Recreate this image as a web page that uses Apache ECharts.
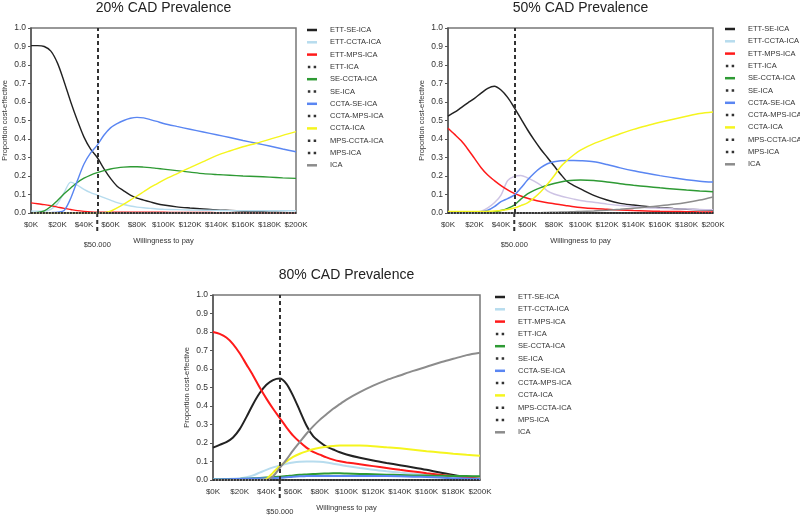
<!DOCTYPE html>
<html lang="en">
<head>
<meta charset="UTF-8">
<title>CAD Prevalence</title>
<script src="https://cdn.jsdelivr.net/npm/echarts@6/dist/echarts.min.js"></script>
<style>
  html, body { margin: 0; padding: 0; background: #fff; }
  #main { width: 800px; height: 516px; }
</style>
</head>
<body>
<div id="main"></div>
<script>
// willingness to pay, $K
var xs = [0, 5, 10, 15, 20, 25, 30, 35, 40, 45, 50, 55, 60, 65, 70, 75, 80, 85, 90, 95, 100,
          110, 120, 130, 140, 150, 160, 170, 180, 190, 200];

var names = ['ETT-SE-ICA', 'ETT-CCTA-ICA', 'ETT-MPS-ICA', 'ETT-ICA', 'SE-CCTA-ICA', 'SE-ICA',
             'CCTA-SE-ICA', 'CCTA-MPS-ICA', 'CCTA-ICA', 'MPS-CCTA-ICA', 'MPS-ICA', 'ICA'];
var dottedNames = ['ETT-ICA', 'SE-ICA', 'CCTA-MPS-ICA', 'MPS-CCTA-ICA', 'MPS-ICA'];
var titles = ['20% CAD Prevalence', '50% CAD Prevalence', '80% CAD Prevalence'];
var wtpLine = 50;

// strategies that stay at zero
var flat = [0,0,0,0,0,0,0,0,0,0,0,0,0,0,0,0,0,0,0,0,0,0,0,0,0,0,0,0,0,0,0];

// 20% prevalence
var ettSe20   = [0.905,0.905,0.9,0.875,0.81,0.71,0.6,0.5,0.41,0.345,0.30,0.24,0.187,0.145,0.12,0.097,0.08,0.07,0.06,0.05,0.043,0.033,0.027,0.022,0.017,0.014,0.011,0.008,0.005,0.003,0.0];
var ettCcta20 = [0.01,0.01,0.01,0.02,0.05,0.11,0.167,0.15,0.128,0.11,0.097,0.083,0.07,0.056,0.046,0.038,0.032,0.028,0.025,0.022,0.02,0.018,0.016,0.015,0.014,0.013,0.013,0.012,0.012,0.012,0.012];
var ettMps20  = [0.055,0.05,0.045,0.039,0.032,0.025,0.019,0.013,0.009,0.006,0.005,0.005,0.004,0.004,0.004,0.004,0.004,0.004,0.004,0.004,0.004,0.003,0.003,0.003,0.002,0.002,0.002,0.001,0.001,0.001,0.0];
var seCcta20  = [0,0.003,0.012,0.035,0.068,0.104,0.135,0.165,0.188,0.205,0.218,0.229,0.238,0.244,0.248,0.25,0.25,0.248,0.245,0.241,0.237,0.229,0.221,0.213,0.208,0.204,0.2,0.197,0.194,0.19,0.187];
var cctaSe20  = [0,0,0,0.002,0.005,0.014,0.08,0.175,0.265,0.325,0.367,0.42,0.46,0.483,0.5,0.512,0.517,0.514,0.505,0.495,0.484,0.468,0.453,0.438,0.423,0.408,0.392,0.377,0.362,0.346,0.331];
var ccta20    = [0,0,0,0,0,0,0,0,0,0,0,0.001,0.01,0.028,0.048,0.07,0.092,0.115,0.138,0.158,0.178,0.212,0.245,0.278,0.31,0.335,0.358,0.377,0.398,0.42,0.44];
var ica20     = [0,0,0,0,0,0,0,0,0,0,0,0,0,0,0,0,0,0,0,0,0,0,0,0,0,0,0,0,0,0,0];

// 50% prevalence
var ettSe50   = [0.524,0.545,0.57,0.595,0.62,0.648,0.674,0.685,0.665,0.625,0.57,0.51,0.45,0.395,0.345,0.3,0.255,0.21,0.17,0.148,0.13,0.095,0.07,0.052,0.043,0.035,0.029,0.024,0.02,0.017,0.015];
var ettCcta50 = [0,0,0,0,0.003,0.01,0.028,0.055,0.097,0.175,0.198,0.203,0.19,0.172,0.15,0.12,0.103,0.092,0.083,0.075,0.068,0.058,0.048,0.04,0.034,0.029,0.026,0.023,0.021,0.019,0.017];
var ettMps50  = [0.458,0.425,0.39,0.345,0.295,0.245,0.205,0.175,0.148,0.125,0.106,0.092,0.08,0.07,0.062,0.055,0.05,0.044,0.039,0.034,0.03,0.024,0.02,0.016,0.013,0.011,0.009,0.008,0.007,0.006,0.005];
var seCcta50  = [0,0,0,0,0,0,0.002,0.006,0.013,0.025,0.043,0.075,0.103,0.122,0.137,0.15,0.16,0.168,0.174,0.177,0.178,0.176,0.168,0.158,0.15,0.143,0.136,0.13,0.124,0.119,0.115];
var cctaSe50  = [0,0,0,0.001,0.003,0.005,0.015,0.035,0.061,0.078,0.097,0.135,0.178,0.215,0.245,0.266,0.277,0.283,0.284,0.284,0.283,0.277,0.262,0.244,0.228,0.215,0.202,0.19,0.18,0.172,0.167];
var ccta50    = [0.008,0.008,0.008,0.008,0.008,0.008,0.009,0.011,0.014,0.019,0.027,0.04,0.055,0.082,0.115,0.155,0.2,0.25,0.285,0.315,0.34,0.375,0.402,0.428,0.452,0.472,0.49,0.507,0.523,0.538,0.546];
var ica50     = [0,0,0,0,0,0,0,0,0,0,0,0,0,0.001,0.002,0.003,0.004,0.005,0.006,0.007,0.008,0.011,0.015,0.02,0.026,0.032,0.039,0.047,0.057,0.07,0.087];

// 80% prevalence
var ettSe80   = [0.175,0.19,0.205,0.23,0.275,0.34,0.41,0.47,0.515,0.54,0.548,0.52,0.455,0.375,0.295,0.237,0.205,0.18,0.165,0.15,0.138,0.12,0.105,0.092,0.08,0.068,0.055,0.04,0.027,0.015,0.005];
var ettCcta80 = [0.005,0.005,0.005,0.007,0.01,0.015,0.025,0.04,0.055,0.068,0.078,0.088,0.095,0.099,0.1,0.1,0.098,0.094,0.088,0.082,0.076,0.065,0.055,0.047,0.04,0.034,0.029,0.025,0.021,0.019,0.018];
var ettMps80  = [0.8,0.79,0.77,0.735,0.685,0.625,0.565,0.5,0.44,0.385,0.335,0.285,0.24,0.205,0.175,0.152,0.137,0.122,0.11,0.101,0.095,0.085,0.075,0.065,0.055,0.046,0.037,0.029,0.021,0.014,0.007];
var seCcta80  = [0.003,0.003,0.004,0.005,0.006,0.007,0.009,0.011,0.013,0.015,0.018,0.021,0.025,0.028,0.03,0.032,0.034,0.035,0.036,0.036,0.035,0.033,0.031,0.029,0.027,0.025,0.024,0.023,0.022,0.021,0.02];
var cctaSe80  = [0.003,0.003,0.004,0.005,0.006,0.007,0.008,0.009,0.01,0.011,0.012,0.015,0.018,0.02,0.021,0.022,0.022,0.022,0.022,0.022,0.022,0.022,0.021,0.021,0.02,0.018,0.016,0.013,0.01,0.008,0.006];
var ccta80    = [0,0,0,0,0,0,0,0,0.005,0.04,0.075,0.1,0.125,0.142,0.155,0.166,0.174,0.18,0.184,0.186,0.187,0.186,0.183,0.177,0.171,0.164,0.156,0.149,0.142,0.136,0.131];
var ica80     = [0,0,0,0,0,0,0,0,0,0.02,0.065,0.11,0.16,0.205,0.25,0.29,0.325,0.355,0.385,0.41,0.435,0.475,0.51,0.54,0.565,0.59,0.612,0.635,0.655,0.675,0.688];

var panelData = [
  {'ETT-SE-ICA': ettSe20, 'ETT-CCTA-ICA': ettCcta20, 'ETT-MPS-ICA': ettMps20, 'SE-CCTA-ICA': seCcta20,
   'CCTA-SE-ICA': cctaSe20, 'CCTA-ICA': ccta20, 'ICA': ica20},
  {'ETT-SE-ICA': ettSe50, 'ETT-CCTA-ICA': ettCcta50, 'ETT-MPS-ICA': ettMps50, 'SE-CCTA-ICA': seCcta50,
   'CCTA-SE-ICA': cctaSe50, 'CCTA-ICA': ccta50, 'ICA': ica50},
  {'ETT-SE-ICA': ettSe80, 'ETT-CCTA-ICA': ettCcta80, 'ETT-MPS-ICA': ettMps80, 'SE-CCTA-ICA': seCcta80,
   'CCTA-SE-ICA': cctaSe80, 'CCTA-ICA': ccta80, 'ICA': ica80}
];

var colors = {
  'ETT-SE-ICA': '#222222',
  'ETT-CCTA-ICA': '#b7dcee',
  'ETT-MPS-ICA': '#ff1a1a',
  'SE-CCTA-ICA': '#2e9a34',
  'CCTA-SE-ICA': '#5a86f2',
  'CCTA-ICA': '#f5f51e',
  'ICA': '#8c8c8c'
};

var font = 'Liberation Sans, Arial, sans-serif';
var grids = [
  {left: 31, top: 28, width: 265, height: 185},
  {left: 448, top: 28, width: 265, height: 185},
  {left: 213, top: 295, width: 267, height: 185}
];
var legendPos = [{left: 307, top: 25}, {left: 725, top: 24}, {left: 495, top: 292}];
var lineWidths = [1.4, 1.5, 2];
var dotIcon = 'path://M0,0h3v3h-3zM7,0h3v3h-3z';

var chart = echarts.init(document.getElementById('main'));

function pair(arr) {
  return xs.map(function (x, i) { return [x, arr[i]]; });
}

var series = [];
panelData.forEach(function (d, p) {
  var solid = names.filter(function (n) { return dottedNames.indexOf(n) < 0; });
  solid.forEach(function (n, k) {
    var c = colors[n];
    if (p === 1 && n === 'ETT-CCTA-ICA') c = '#cdc3e4';
    var s = {
      name: n, type: 'line', xAxisIndex: p, yAxisIndex: p,
      data: pair(d[n]), smooth: 0.3, symbol: 'none', silent: true,
      itemStyle: {color: c},
      lineStyle: {color: c, width: lineWidths[p]}
    };
    if (k === 0) {
      s.markLine = {
        silent: true, symbol: 'none', label: {show: false},
        lineStyle: {color: '#333', width: 2, type: [4, 3]},
        data: [{xAxis: wtpLine}]
      };
    }
    series.push(s);
  });
  dottedNames.forEach(function (n) {
    series.push({
      name: n, type: 'line', xAxisIndex: p, yAxisIndex: p,
      data: pair(flat), symbol: 'none', silent: true,
      itemStyle: {color: '#333'},
      lineStyle: {color: '#333', width: 1.5, type: 'dotted'}
    });
  });
});

var option = {
  animation: false,
  backgroundColor: '#fff',
  textStyle: {fontFamily: font},
  grid: grids.map(function (g) {
    return {left: g.left, top: g.top, width: g.width, height: g.height,
            show: true, borderColor: '#777', borderWidth: 1.5, backgroundColor: 'transparent'};
  }),
  xAxis: grids.map(function (g, i) {
    return {
      type: 'value', gridIndex: i, min: 0, max: 200, interval: 20,
      name: 'Willingness to pay', nameLocation: 'middle', nameGap: 24,
      nameTextStyle: {fontSize: 7.5, color: '#333', fontFamily: font},
      axisLine: {lineStyle: {color: '#333', width: 1.5}},
      axisTick: {show: false},
      splitLine: {show: false},
      axisLabel: {fontSize: 8, color: '#333', margin: 8, fontFamily: font,
                  formatter: function (v) { return '$' + v + 'K'; }}
    };
  }),
  yAxis: grids.map(function (g, i) {
    return {
      type: 'value', gridIndex: i, min: 0, max: 1, interval: 0.1,
      name: 'Proportion cost-effective', nameLocation: 'middle', nameGap: 22,
      nameTextStyle: {fontSize: 7.5, color: '#333', fontFamily: font},
      axisLine: {show: true, lineStyle: {color: '#555', width: 1.5}},
      axisTick: {show: true, length: 3, lineStyle: {color: '#555'}},
      splitLine: {show: false},
      axisLabel: {fontSize: 8.5, color: '#333', margin: 5, fontFamily: font,
                  formatter: function (v) { return v.toFixed(1); }}
    };
  }),
  legend: legendPos.map(function (lp) {
    return {
      orient: 'vertical', left: lp.left, top: lp.top, padding: 0,
      itemWidth: 10, itemHeight: 2.5, itemGap: 2.3, selectedMode: false,
      itemStyle: {borderWidth: 0},
      textStyle: {fontSize: 7.5, color: '#333', lineHeight: 10, padding: [0, 0, 0, 8], fontFamily: font},
      data: names.map(function (n) {
        return {name: n, icon: dottedNames.indexOf(n) >= 0 ? dotIcon : 'rect'};
      })
    };
  }),
  series: series
};

chart.setOption(option);

// titles, dashed extension below the axis and the $50.000 label
var graphics = [];
grids.forEach(function (g, i) {
  graphics.push({
    type: 'text', x: g.left + g.width / 2, y: g.top - 20,
    style: {text: titles[i], fill: '#222', font: '14px ' + font,
            align: 'center', textAlign: 'center', verticalAlign: 'middle', textVerticalAlign: 'middle'}
  });
  var px = chart.convertToPixel({xAxisIndex: i}, wtpLine);
  var py = chart.convertToPixel({yAxisIndex: i}, 0);
  graphics.push({
    type: 'line', shape: {x1: px, y1: py, x2: px, y2: py + 20},
    style: {stroke: '#333', lineWidth: 2, lineDash: [4, 3]}
  });
  graphics.push({
    type: 'text', x: px, y: py + 32,
    style: {text: '$50.000', fill: '#333', font: '7.5px ' + font,
            align: 'center', textAlign: 'center', verticalAlign: 'middle', textVerticalAlign: 'middle'}
  });
});
chart.setOption({graphic: graphics});
</script>
</body>
</html>
